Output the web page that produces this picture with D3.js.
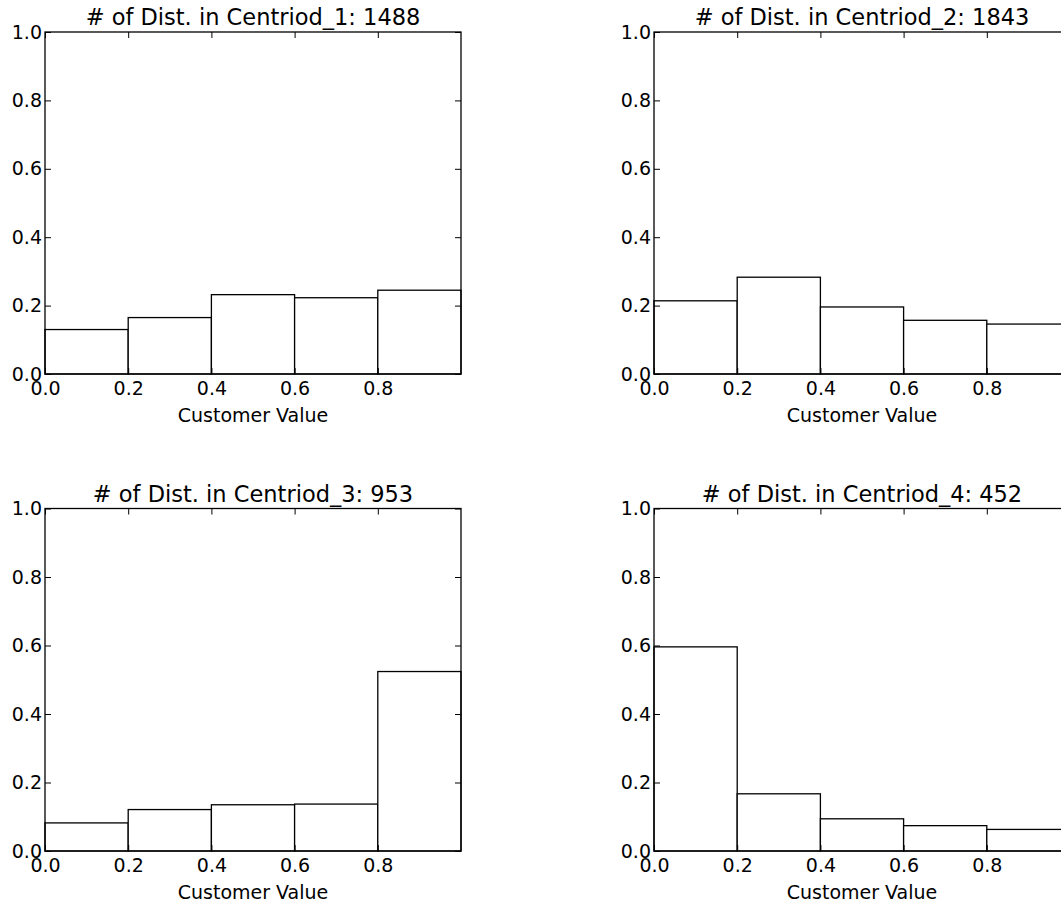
<!DOCTYPE html>
<html>
<head>
<meta charset="utf-8">
<script src="https://cdn.jsdelivr.net/npm/d3@7"></script>
<style>
  html, body { margin: 0; padding: 0; background: #fff; overflow: hidden; }
  svg { display: block; }
  text { font-family: "DejaVu Sans", sans-serif; fill: #000; }
</style>
</head>
<body>
<svg id="chart" width="1061" height="903"></svg>
<script>
// Histogram bin edges on the customer-value scale
const binEdges = [0, 0.2, 0.4, 0.6, 0.8, 1.0];
const xTicks = [0, 0.2, 0.4, 0.6, 0.8];
const yTicks = [0, 0.2, 0.4, 0.6, 0.8, 1.0];

// Distributor count per centroid (shown in the panel titles)
const centroidNames = ["Centriod_1", "Centriod_2", "Centriod_3", "Centriod_4"];
const centroidCounts = [1488, 1843, 953, 452];

// Normalised share of distributors in each bin, per centroid
const centroid1 = [0.130, 0.165, 0.232, 0.223, 0.245];
const centroid2 = [0.214, 0.283, 0.196, 0.157, 0.146];
const centroid3 = [0.082, 0.121, 0.135, 0.137, 0.524];
const centroid4 = [0.596, 0.167, 0.094, 0.074, 0.063];

const xLabel = "Customer Value";

const series = [centroid1, centroid2, centroid3, centroid4];

// 2x2 grid of axes boxes
const panels = [
  { left: 45,  right: 461,  top: 32,    bottom: 374 },
  { left: 654, right: 1070, top: 32,    bottom: 374 },
  { left: 45,  right: 461,  top: 508.5, bottom: 851 },
  { left: 654, right: 1070, top: 508.5, bottom: 851 }
];

const svg = d3.select("#chart");
svg.append("rect").attr("width", 1061).attr("height", 903).attr("fill", "#fff");

const fmt = d3.format(".1f");
const tickFont = "19px";
const LW = 1.3;

panels.forEach((p, i) => {
  const x = d3.scaleLinear().domain([0, 1]).range([p.left, p.right]);
  const y = d3.scaleLinear().domain([0, 1]).range([p.bottom, p.top]);
  const g = svg.append("g");

  // bars
  const bins = series[i].map((v, k) => ({ x0: binEdges[k], x1: binEdges[k + 1], v }));
  g.selectAll("rect.bar").data(bins).join("rect")
    .attr("class", "bar")
    .attr("x", d => x(d.x0))
    .attr("y", d => y(d.v))
    .attr("width", d => x(d.x1) - x(d.x0))
    .attr("height", d => y(0) - y(d.v))
    .attr("fill", "#fff")
    .attr("stroke", "#000")
    .attr("stroke-width", LW);

  // axes with inward ticks
  const styleAxis = sel => {
    sel.select(".domain").remove();
    sel.selectAll(".tick line").attr("stroke", "#000").attr("stroke-width", 1);
    sel.selectAll(".tick text").style("font-size", tickFont).attr("fill", "#000");
  };

  g.append("g").attr("transform", `translate(0,${p.bottom})`)
    .call(d3.axisBottom(x).tickValues(xTicks).tickFormat(fmt).tickSize(-6).tickPadding(7.5))
    .call(styleAxis);
  g.append("g").attr("transform", `translate(0,${p.top})`)
    .call(d3.axisTop(x).tickValues(xTicks).tickFormat("").tickSize(-6))
    .call(styleAxis);
  g.append("g").attr("transform", `translate(${p.left},0)`)
    .call(d3.axisLeft(y).tickValues(yTicks).tickFormat(fmt).tickSize(-6).tickPadding(3))
    .call(styleAxis);
  g.append("g").attr("transform", `translate(${p.right},0)`)
    .call(d3.axisRight(y).tickValues(yTicks).tickFormat("").tickSize(-6))
    .call(styleAxis);

  // frame
  g.append("rect")
    .attr("x", p.left).attr("y", p.top)
    .attr("width", p.right - p.left).attr("height", p.bottom - p.top)
    .attr("fill", "none").attr("stroke", "#000").attr("stroke-width", LW);

  // title
  g.append("text")
    .attr("x", (p.left + p.right) / 2)
    .attr("y", p.top - 7)
    .attr("text-anchor", "middle")
    .style("font-size", "22.5px")
    .text(`# of Dist. in ${centroidNames[i]}: ${centroidCounts[i]}`);

  // x label
  g.append("text")
    .attr("x", (p.left + p.right) / 2)
    .attr("y", p.bottom + 48)
    .attr("text-anchor", "middle")
    .style("font-size", "19px")
    .text(xLabel);
});
</script>
</body>
</html>
